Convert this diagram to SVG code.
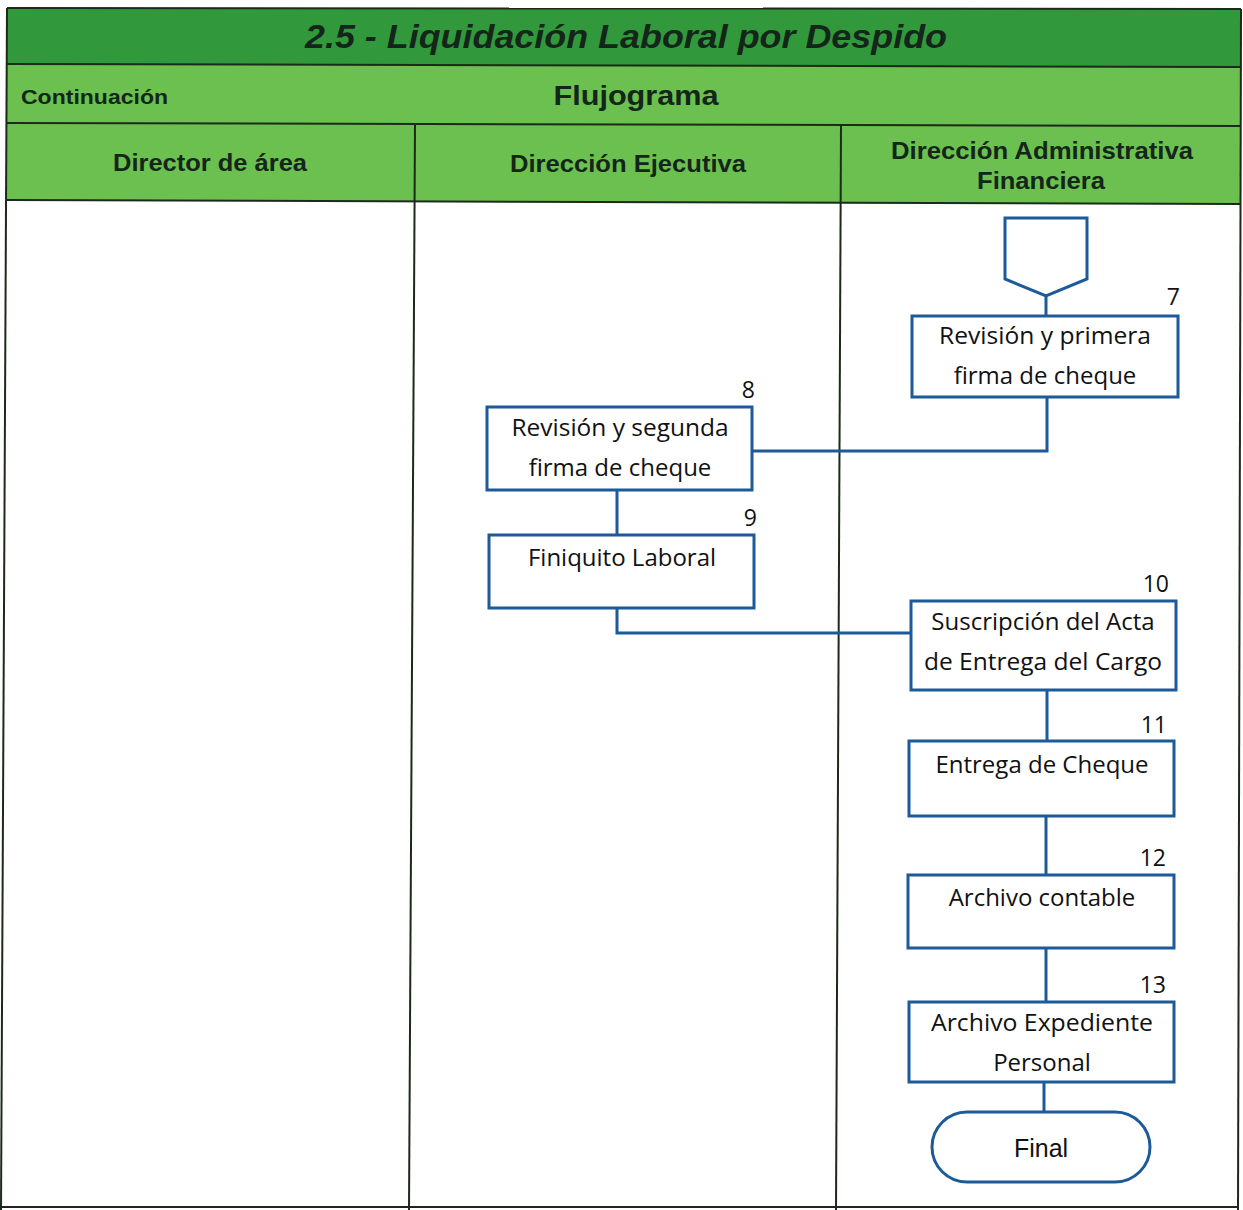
<svg xmlns="http://www.w3.org/2000/svg" width="1243" height="1210" viewBox="0 0 1243 1210">
  <style>
    .band-dark { fill: #31993c; }
    .band-light { fill: #6cc04f; }
    .grid { stroke: #1b2a1b; stroke-width: 2; fill: none; }
    .head { font-family: "Liberation Sans", Arial, sans-serif; font-weight: bold; fill: #14261a; }
    .title { font-family: "Liberation Sans", Arial, sans-serif; font-weight: bold; font-style: italic; font-size: 34px; fill: #14261a; }
    .box { fill: #ffffff; stroke: #1d5a9a; stroke-width: 3; }
    .wire { fill: none; stroke: #1d5a9a; stroke-width: 3; }
    .label { font-family: "Open Sans", "Noto Sans", sans-serif; font-size: 24px; fill: #111111; text-anchor: middle; }
    .terminal-label { font-family: "Liberation Sans", Arial, sans-serif; font-size: 25px; fill: #111111; text-anchor: middle; }
    .num { font-family: "Open Sans", "Noto Sans", sans-serif; font-size: 23px; fill: #111111; text-anchor: end; }
  </style>

  <rect width="1243" height="1210" fill="#ffffff"/>

  <!-- header bands -->
  <g id="header">
    <polygon class="band-dark" points="7,8 1241,9 1241,67 7,64"/>
    <polygon class="band-light" points="7,64 1241,67 1241,204 6,200"/>
    <polyline class="grid" points="7,8 1241,9"/>
    <polyline class="grid" points="7,64 1241,67"/>
    <polyline class="grid" points="7,123 1241,126"/>
    <polyline class="grid" points="6,200 1241,204"/>
    <text class="title" x="626" y="48" text-anchor="middle" textLength="642" lengthAdjust="spacingAndGlyphs">2.5 - Liquidación Laboral por Despido</text>
    <text class="head" x="21" y="104" font-size="21" textLength="147" lengthAdjust="spacingAndGlyphs">Continuación</text>
    <text class="head" x="636" y="105" font-size="28" text-anchor="middle" textLength="165" lengthAdjust="spacingAndGlyphs">Flujograma</text>
    <text class="head" x="210" y="171" font-size="23" text-anchor="middle" textLength="194" lengthAdjust="spacingAndGlyphs">Director de área</text>
    <text class="head" x="628" y="172" font-size="23" text-anchor="middle" textLength="236" lengthAdjust="spacingAndGlyphs">Dirección Ejecutiva</text>
    <text class="head" x="1042" y="159" font-size="23" text-anchor="middle" textLength="302" lengthAdjust="spacingAndGlyphs">Dirección Administrativa</text>
    <text class="head" x="1041" y="189" font-size="23" text-anchor="middle" textLength="128" lengthAdjust="spacingAndGlyphs">Financiera</text>
  </g>

  <!-- lane borders -->
  <g id="lanes">
    <polyline class="grid" points="7,8 1,1210"/>
    <polyline class="grid" points="415,123 409,1210"/>
    <polyline class="grid" points="841,125 836,1210"/>
    <polyline class="grid" points="1241,9 1238,1210"/>
    <polyline class="grid" points="1,1207 1238,1207"/>
  </g>

  <!-- connectors -->
  <g id="connectors">
    <path class="wire" d="M1046,296 V316"/>
    <path class="wire" d="M1047,397 V451 H753"/>
    <path class="wire" d="M617,490 V535"/>
    <path class="wire" d="M617,608 V633 H911"/>
    <path class="wire" d="M1047,690 V741"/>
    <path class="wire" d="M1046,816 V875"/>
    <path class="wire" d="M1046,948 V1002"/>
    <path class="wire" d="M1044,1082 V1112"/>
  </g>

  <!-- off-page connector -->
  <g id="offpage">
    <polygon class="box" points="1005,218 1087,218 1087,279 1046,296 1005,279"/>
  </g>

  <g id="step7">
    <rect class="box" x="912" y="316" width="266" height="81"/>
    <text class="num" x="1180" y="305">7</text>
    <text class="label" x="1045" y="344" textLength="212" lengthAdjust="spacingAndGlyphs">Revisión y primera</text>
    <text class="label" x="1045" y="384">firma de cheque</text>
  </g>

  <g id="step8">
    <rect class="box" x="487" y="407" width="265" height="83"/>
    <text class="num" x="755" y="398">8</text>
    <text class="label" x="620" y="436" textLength="217" lengthAdjust="spacingAndGlyphs">Revisión y segunda</text>
    <text class="label" x="620" y="476">firma de cheque</text>
  </g>

  <g id="step9">
    <rect class="box" x="489" y="535" width="265" height="73"/>
    <text class="num" x="757" y="526">9</text>
    <text class="label" x="622" y="566">Finiquito Laboral</text>
  </g>

  <g id="step10">
    <rect class="box" x="911" y="601" width="265" height="89"/>
    <text class="num" x="1169" y="592">10</text>
    <text class="label" x="1043" y="630">Suscripción del Acta</text>
    <text class="label" x="1043" y="670" textLength="238" lengthAdjust="spacingAndGlyphs">de Entrega del Cargo</text>
  </g>

  <g id="step11">
    <rect class="box" x="909" y="741" width="265" height="75"/>
    <text class="num" x="1167" y="733">11</text>
    <text class="label" x="1042" y="773">Entrega de Cheque</text>
  </g>

  <g id="step12">
    <rect class="box" x="908" y="875" width="266" height="73"/>
    <text class="num" x="1166" y="866">12</text>
    <text class="label" x="1042" y="906">Archivo contable</text>
  </g>

  <g id="step13">
    <rect class="box" x="909" y="1002" width="265" height="80"/>
    <text class="num" x="1166" y="993">13</text>
    <text class="label" x="1042" y="1031" textLength="222" lengthAdjust="spacingAndGlyphs">Archivo Expediente</text>
    <text class="label" x="1042" y="1071">Personal</text>
  </g>

  <g id="final">
    <rect class="box" x="932" y="1112" width="218" height="70" rx="35" ry="35"/>
    <text class="terminal-label" x="1041" y="1157">Final</text>
  </g>
</svg>
